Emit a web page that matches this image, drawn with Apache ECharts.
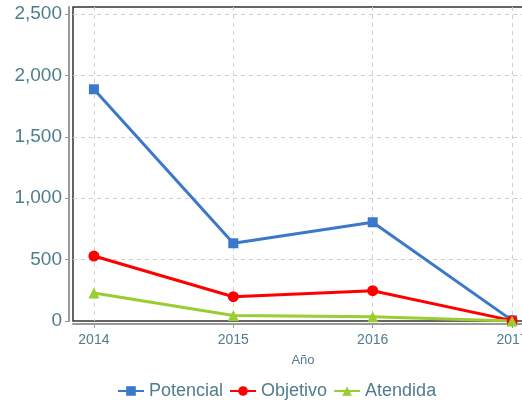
<!DOCTYPE html>
<html>
<head>
<meta charset="utf-8">
<script src="https://cdn.jsdelivr.net/npm/echarts@6/dist/echarts.min.js"></script>
<style>html,body{margin:0;padding:0;background:#fff}#c{width:522px;height:400px}</style>
</head>
<body>
<div id="c"></div>
<script>
var years = [2014, 2015, 2016, 2017];
var potencial = [1887, 633, 804, 5];
var objetivo = [529, 198, 247, 3];
var atendida = [228, 45, 35, 1];
var yTicks = [0, 500, 1000, 1500, 2000, 2500];
var seriesNames = ['Potencial', 'Objetivo', 'Atendida'];

var txt = '#4f7d8c';
var font = 'Liberation Sans, Arial, sans-serif';
function pairs(vals) { return years.map(function (y, i) { return [y, vals[i]]; }); }

var chart = echarts.init(document.getElementById('c'), null, {renderer: 'canvas'});
chart.setOption({
  animation: false,
  textStyle: {fontFamily: font},
  grid: {left: 73, top: 7, width: 460, height: 314, show: true, borderColor: '#333', borderWidth: 1.5,
    containLabel: false, outerBoundsMode: 'none'},
  legend: {
    top: 377, left: 112, itemGap: 6, itemWidth: 26, itemHeight: 12,
    textStyle: {color: txt, fontSize: 18, fontFamily: font},
    data: seriesNames
  },
  xAxis: {
    type: 'value', min: 2013.85, max: 2017.15, minInterval: 1, maxInterval: 1,
    offset: 3,
    name: 'Año', nameLocation: 'middle', nameGap: 30,
    nameTextStyle: {color: txt, fontSize: 13, fontFamily: font},
    axisLine: {show: true, onZero: false, lineStyle: {color: '#999', width: 2}},
    axisTick: {show: true, length: 4, lineStyle: {color: '#999'}, customValues: years},
    axisLabel: {color: txt, fontSize: 14, margin: 9, customValues: years, hideOverlap: false,
      formatter: function (v) { return Number.isInteger(v) ? String(v) : ''; }},
    splitLine: {show: true, showMinLine: true, showMaxLine: true,
      lineStyle: {color: '#d0d0d0', type: [4, 4], width: 1}}
  },
  yAxis: {
    type: 'value', min: 0, max: 2557, interval: 500,
    offset: 4,
    axisLine: {show: true, lineStyle: {color: '#999', width: 2}},
    axisTick: {show: true, length: 4, lineStyle: {color: '#999'}, customValues: yTicks},
    axisLabel: {color: txt, fontSize: 19, margin: 7, customValues: yTicks,
      formatter: function (v) { return v % 500 === 0 ? v.toLocaleString('en-US') : ''; }},
    splitLine: {show: true, showMinLine: false, showMaxLine: true,
      lineStyle: {color: '#d0d0d0', type: [4, 4], width: 1}}
  },
  series: [
    {name: seriesNames[0], type: 'line', data: pairs(potencial), symbol: 'rect', symbolSize: 10,
      itemStyle: {color: '#3b78c9'}, lineStyle: {width: 3, color: '#3b78c9'}},
    {name: seriesNames[1], type: 'line', data: pairs(objetivo), symbol: 'circle', symbolSize: 11,
      itemStyle: {color: '#ff0000'}, lineStyle: {width: 3, color: '#ff0000'}},
    {name: seriesNames[2], type: 'line', data: pairs(atendida), symbol: 'triangle', symbolSize: 11,
      itemStyle: {color: '#9acd32'}, lineStyle: {width: 3, color: '#9acd32'}}
  ]
});
</script>
</body>
</html>
